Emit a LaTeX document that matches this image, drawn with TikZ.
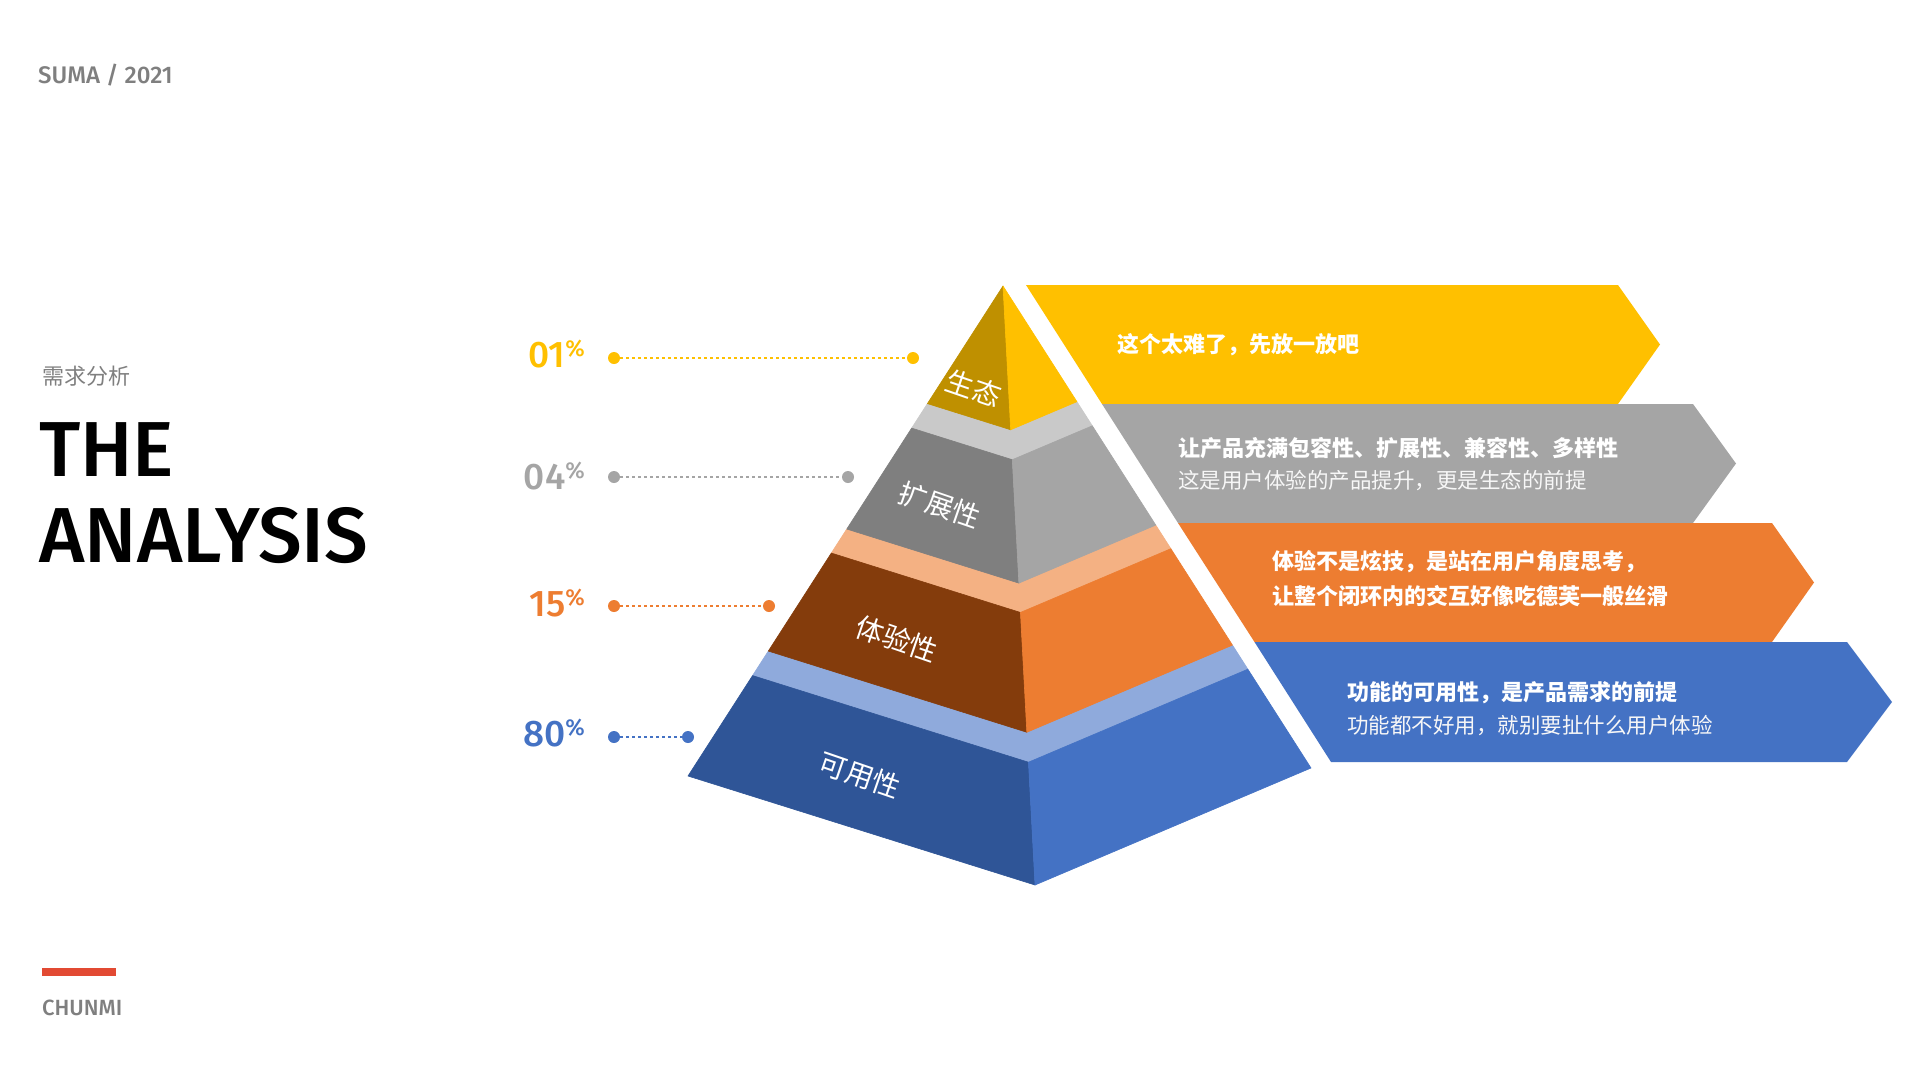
\documentclass[tikz,border=0pt]{standalone}
\usepackage{fontspec}
\usetikzlibrary{calc}
\setmainfont{Fira Sans}[BoldFont={Fira Sans Medium}]
\newfontfamily\cjk{Noto Sans CJK SC}
\definecolor{cYel}{HTML}{FFC000}
\definecolor{cYelD}{HTML}{BF9000}
\definecolor{cGry}{HTML}{A5A5A5}
\definecolor{cGryD}{HTML}{7F7F7F}
\definecolor{cGryL}{HTML}{C9C9C9}
\definecolor{cOra}{HTML}{ED7D31}
\definecolor{cOraD}{HTML}{843C0C}
\definecolor{cOraL}{HTML}{F4B183}
\definecolor{cBlu}{HTML}{4472C4}
\definecolor{cBluD}{HTML}{2F5597}
\definecolor{cBluL}{HTML}{8FAADC}
\definecolor{cTxt}{HTML}{7F7F7F}
\definecolor{cRed}{HTML}{E24A33}
\tikzset{
  pct/.style={anchor=base east, inner sep=0, font=\bfseries},
  dotline/.style={line width=2.6pt, dash pattern=on 2.6pt off 3.4pt},
  enddot/.style={circle, fill, inner sep=0, minimum size=12pt},
  btxt/.style={anchor=west, inner sep=0, text=white, font={\cjk\bfseries\fontsize{22}{22}\selectfont}},
  stxt/.style={anchor=west, inner sep=0, text=white!94!gray, font={\cjk\fontsize{21.5}{21.5}\selectfont}},
  plabel/.style={text=white, inner sep=0, rotate=-19, font={\cjk\fontsize{28}{28}\selectfont}},
  face/.style={fill=#1, draw=#1, line width=0.6pt, line join=round},
  titletxt/.style={anchor=west, inner sep=0}
}
\newcommand{\pctxt}[1]{{\fontsize{37}{37}\selectfont #1}\raisebox{11pt}{\fontsize{23}{23}\selectfont\%}}
\begin{document}
\begin{tikzpicture}[x=1pt,y=-1pt]
\fill[white] (0,0) rectangle (1920,1080);
\path[use as bounding box] (0,0) rectangle (1920,1080);

% left titles
\node[titletxt, text=cTxt, font={\bfseries\fontsize{24}{24}\selectfont}] (suma) at (38,75) {SUMA / 2021};
\node[titletxt, text=cTxt, font={\cjk\fontsize{22}{22}\selectfont}] (xqfx) at (42,376) {需求分析};
\node[titletxt, text=black, font={\bfseries\fontsize{78}{78}\selectfont}] (the) at (39,450) {THE};
\node[titletxt, text=black, font={\bfseries\fontsize{78}{78}\selectfont}] (analysis) at (39,536) {ANALYSIS};
\fill[cRed] (42,968) rectangle (116,976);
\node[titletxt, text=cTxt, font={\bfseries\fontsize{22}{22}\selectfont}] (chunmi) at (42,1008) {CHUNMI};

% banners
\fill[cYel] (1026,285) -- (1618,285) -- (1660,344.5) -- (1618,404) -- (1102,404) -- cycle;
\fill[cGry] (1102,404) -- (1693,404) -- (1736,463.5) -- (1693,523) -- (1178,523) -- cycle;
\fill[cOra] (1178,523) -- (1772,523) -- (1814,582.5) -- (1772,642) -- (1254.5,642) -- cycle;
\fill[cBlu] (1254.5,642) -- (1847,642) -- (1892,702) -- (1847,762) -- (1331,762) -- cycle;

\node[btxt] (t1) at (1117,345) {这个太难了，先放一放吧};
\node[btxt] (t2a) at (1178,448) {让产品充满包容性、扩展性、兼容性、多样性};
\node[stxt] (t2b) at (1178,481) {这是用户体验的产品提升，更是生态的前提};
\node[btxt] (t3a) at (1272,562) {体验不是炫技，是站在用户角度思考，};
\node[btxt] (t3b) at (1272,596) {让整个闭环内的交互好像吃德芙一般丝滑};
\node[btxt] (t4a) at (1347,693) {功能的可用性，是产品需求的前提};
\node[stxt] (t4b) at (1347,726) {功能都不好用，就别要扯什么用户体验};

% pyramid geometry
\coordinate (apex) at (1003,286);
\coordinate (lb) at (688,776);
\coordinate (fb) at (1035,885);
\coordinate (rb) at (1311,768);
\foreach \n/\t in {g/0.24, sT/0.29, sB/0.496, oT/0.545, oB/0.745, bT/0.795} {
  \coordinate (\n-L) at ($(apex)!\t!(lb)$);
  \coordinate (\n-F) at ($(apex)!\t!(fb)$);
  \coordinate (\n-R) at ($(apex)!\t!(rb)$);
}
% blue tier
\path[face=cBluL] (bT-L) -- (bT-F) -- (bT-R) -- (oB-R) -- (oB-L) -- cycle;
\path[face=cBluD] (bT-L) -- (bT-F) -- (fb) -- (lb) -- cycle;
\path[face=cBlu] (bT-F) -- (bT-R) -- (rb) -- (fb) -- cycle;
% orange tier
\path[face=cOraL] (oT-L) -- (oT-F) -- (oT-R) -- (sB-R) -- (sB-L) -- cycle;
\path[face=cOraD] (oT-L) -- (oT-F) -- (oB-F) -- (oB-L) -- cycle;
\path[face=cOra] (oT-F) -- (oT-R) -- (oB-R) -- (oB-F) -- cycle;
% gray tier
\path[face=cGryL] (sT-L) -- (sT-F) -- (sT-R) -- (g-R) -- (g-L) -- cycle;
\path[face=cGryD] (sT-L) -- (sT-F) -- (sB-F) -- (sB-L) -- cycle;
\path[face=cGry] (sT-F) -- (sT-R) -- (sB-R) -- (sB-F) -- cycle;
% gold top
\path[face=cYelD] (apex) -- (g-F) -- (g-L) -- cycle;
\path[face=cYel] (apex) -- (g-R) -- (g-F) -- cycle;

\node[plabel] (l1) at (974,388) {生态};
\node[plabel] (l2) at (940,505) {扩展性};
\node[plabel] (l3) at (897,639) {体验性};
\node[plabel] (l4) at (860,775) {可用性};

% percentages and dotted leaders
\node[pct, text=cYel] (p1) at (585,367) {\pctxt{01}};
\node[pct, text=cGry] (p2) at (585,489) {\pctxt{04}};
\node[pct, text=cOra] (p3) at (585,616) {\pctxt{15}};
\node[pct, text=cBlu] (p4) at (585,746) {\pctxt{80}};

\node[enddot, fill=cYel] (d1a) at (614,358) {};
\node[enddot, fill=cYel] (d1b) at (913,358) {};
\node[enddot, fill=cGry] (d2a) at (614,477) {};
\node[enddot, fill=cGry] (d2b) at (848,477) {};
\node[enddot, fill=cOra] (d3a) at (614,606) {};
\node[enddot, fill=cOra] (d3b) at (769,606) {};
\node[enddot, fill=cBlu] (d4a) at (614,737) {};
\node[enddot, fill=cBlu] (d4b) at (688,737) {};
\draw[dotline, cYel] (d1a) -- (d1b);
\draw[dotline, cGry] (d2a) -- (d2b);
\draw[dotline, cOra] (d3a) -- (d3b);
\draw[dotline, cBlu] (d4a) -- (d4b);
\end{tikzpicture}
\end{document}
